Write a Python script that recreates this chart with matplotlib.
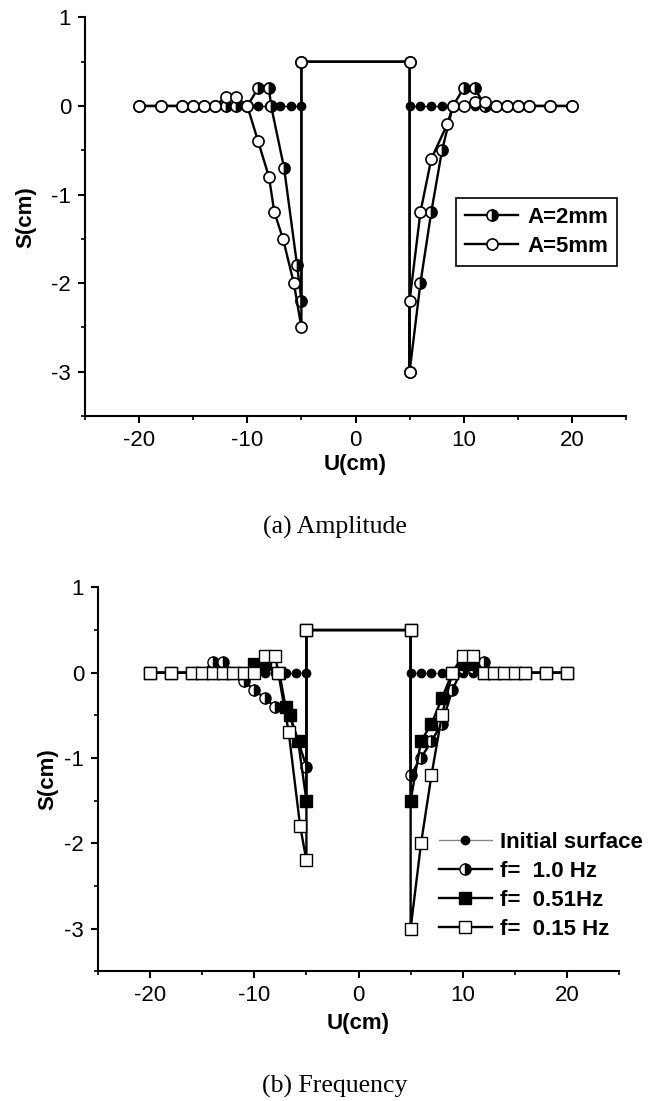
import numpy as np
import matplotlib
matplotlib.use("Agg")
import matplotlib.pyplot as plt
from matplotlib.ticker import MultipleLocator

plt.rcParams['font.family'] = ['Liberation Sans', 'DejaVu Sans']
plt.rcParams['axes.unicode_minus'] = False

nan = np.nan

# ---- (a) amplitude ----
init_a_x = [-12, -11, -10, -9, -8, -7, -6, -5, nan, 5, 6, 7, 8, 9, 10, 11, 12]
init_a_y = [0, 0, 0, 0, 0, 0, 0, 0, nan, 0, 0, 0, 0, 0, 0, 0, 0]

a2_x = [-20, -18, -16, -15, -14, -13, -12, -11, -10, -9, -8, -7.8, -6.6, -5.4, -5,
        -5, 5, 5, 6, 7, 8, 9, 10, 11, 12, 13, 14, 15, 16, 18, 20]
a2_y = [0, 0, 0, 0, 0, 0, 0, 0, 0, 0.2, 0.2, 0, -0.7, -1.8, -2.2,
        0.5, 0.5, -3, -2, -1.2, -0.5, 0, 0.2, 0.2, 0, 0, 0, 0, 0, 0, 0]

a5_x = [-20, -18, -16, -15, -14, -13, -12, -11, -10, -9, -8, -7.5, -6.7, -5.7, -5,
        -5, 5, 5, 5, 6, 7, 8.5, 9, 10, 11, 12, 13, 14, 15, 16, 18, 20]
a5_y = [0, 0, 0, 0, 0, 0, 0.1, 0.1, 0, -0.4, -0.8, -1.2, -1.5, -2.0, -2.5,
        0.5, 0.5, -3, -2.2, -1.2, -0.6, -0.2, 0, 0, 0.05, 0.05, 0, 0, 0, 0, 0, 0]

# ---- (b) frequency ----
init_b_x = [-12, -11, -10, -9, -8, -7, -6, -5, nan, 5, 6, 7, 8, 9, 10, 11, 12]
init_b_y = [0, 0, 0, 0, 0, 0, 0, 0, nan, 0, 0, 0, 0, 0, 0, 0, 0]

f10_x = [-20, -18, -16, -15, -14, -13, -12, -11, -10, -9, -8, -6.6, -5,
         -5, 5, 5, 6, 7, 8, 9, 10, 11, 12, 13, 14, 15, 16, 18, 20]
f10_y = [0, 0, 0, 0, 0.12, 0.12, 0, -0.1, -0.2, -0.3, -0.4, -0.5, -1.1,
         0.5, 0.5, -1.2, -1.0, -0.8, -0.6, -0.2, 0.05, 0.05, 0.12, 0, 0, 0, 0, 0, 0]

f051_x = [-20, -18, -16, -15, -14, -13, -12, -11, -10, -9, -7.6, -7, -6.6, -5.8, -5,
          -5, 5, 5, 6, 7, 8, 9, 10, 11, 12, 13, 14, 15, 16, 18, 20]
f051_y = [0, 0, 0, 0, 0, 0, 0, 0, 0.1, 0.1, 0, -0.4, -0.5, -0.8, -1.5,
          0.5, 0.5, -1.5, -0.8, -0.6, -0.3, 0, 0.1, 0.1, 0, 0, 0, 0, 0, 0, 0]

f015_x = [-20, -18, -16, -15, -14, -13, -12, -11, -10, -9, -8, -7.7, -6.7, -5.6, -5,
          -5, 5, 5, 6, 7, 8, 9, 10, 11, 12, 13, 14, 15, 16, 18, 20]
f015_y = [0, 0, 0, 0, 0, 0, 0, 0, 0, 0.2, 0.2, 0, -0.7, -1.8, -2.2,
          0.5, 0.5, -3, -2, -1.2, -0.5, 0, 0.2, 0.2, 0, 0, 0, 0, 0, 0, 0]

FS = 16
LW = 1.7


def style_axes(ax, xlabelpad):
    ax.set_xlim(-25, 25)
    ax.set_ylim(-3.5, 1)
    ax.spines['top'].set_visible(False)
    ax.spines['right'].set_visible(False)
    for s in ('left', 'bottom'):
        ax.spines[s].set_linewidth(1.5)
    ax.xaxis.set_major_locator(MultipleLocator(10))
    ax.xaxis.set_minor_locator(MultipleLocator(5))
    ax.yaxis.set_major_locator(MultipleLocator(1))
    ax.yaxis.set_minor_locator(MultipleLocator(0.5))
    ax.tick_params(which='major', direction='out', length=5, width=1.5,
                   labelsize=FS, pad=5)
    ax.tick_params(which='minor', direction='out', length=3, width=1.2)
    ax.set_xlabel('U(cm)', fontsize=FS, fontweight='bold', labelpad=xlabelpad)
    ax.set_ylabel('S(cm)', fontsize=FS, fontweight='bold')


fig = plt.figure(figsize=(6.57, 11.01), dpi=100)

# top panel
ax1 = fig.add_axes([0.1294, 0.6222, 0.8234, 0.3620])
ax1.plot(init_a_x, init_a_y, color='black', lw=1, marker='o', ms=6,
         mfc='black', mec='black', zorder=2)
ax1.plot(a2_x, a2_y, color='black', lw=LW, marker='o', ms=8, fillstyle='right',
         mfc='black', mfcalt='white', mec='black', mew=1.2, label='A=2mm', zorder=3)
ax1.plot(a5_x, a5_y, color='black', lw=LW, marker='o', ms=8,
         mfc='white', mec='black', mew=1.2, label='A=5mm', zorder=4)
style_axes(ax1, 2)
ax1.yaxis.set_label_coords(-0.09, 0.5)
leg1 = ax1.legend(loc='upper left', bbox_to_anchor=(0.694, 0.820),
                  bbox_transform=fig.transFigure, borderaxespad=0,
                  fancybox=False, edgecolor='black', framealpha=1,
                  prop={'weight': 'bold', 'size': FS}, handlelength=2.4,
                  handletextpad=0.4, borderpad=0.4, labelspacing=0.35)
leg1.get_frame().set_linewidth(1.2)

# bottom panel
ax2 = fig.add_axes([0.1492, 0.1178, 0.7930, 0.3487])
ax2.plot(init_b_x, init_b_y, color='#888888', lw=1, marker='o', ms=6,
         mfc='black', mec='black', label='Initial surface', zorder=2)
ax2.plot(f10_x, f10_y, color='black', lw=LW, marker='o', ms=8, fillstyle='right',
         mfc='black', mfcalt='white', mec='black', mew=1.0,
         label='f=  1.0 Hz', zorder=3)
ax2.plot(f051_x, f051_y, color='black', lw=LW, marker='s', ms=8,
         mfc='black', mec='black', mew=1.0, label='f=  0.51Hz', zorder=4)
ax2.plot(f015_x, f015_y, color='black', lw=LW, marker='s', ms=8,
         mfc='white', mec='black', mew=1.0, label='f=  0.15 Hz', zorder=5)
style_axes(ax2, 5)
ax2.yaxis.set_label_coords(-0.076, 0.5)
ax2.legend(loc='upper left', bbox_to_anchor=(7.7, -1.87),
           bbox_transform=ax2.transData, borderaxespad=0, borderpad=0,
           frameon=False, prop={'weight': 'bold', 'size': FS},
           handlelength=2.4, handletextpad=0.35, labelspacing=0.36)

fig.text(0.51, 1 - 527 / 1101, '(a) Amplitude', ha='center', va='center',
         family='Liberation Serif', fontsize=18.5)
fig.text(0.51, 1 - 1086 / 1101, '(b) Frequency', ha='center', va='center',
         family='Liberation Serif', fontsize=18.5)

fig.savefig('out.png', dpi=100)
